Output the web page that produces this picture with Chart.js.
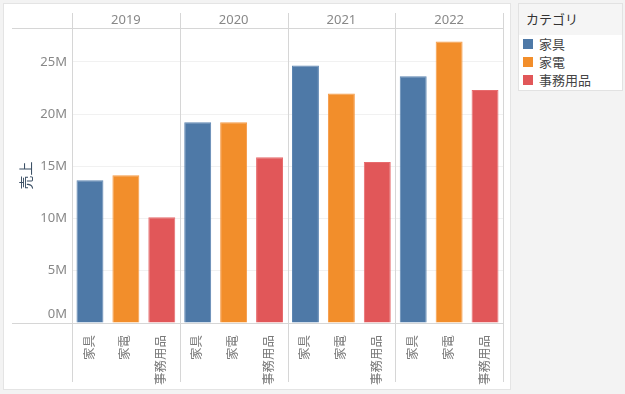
<!DOCTYPE html>
<html>
<head>
<meta charset="utf-8">
<script src="https://cdn.jsdelivr.net/npm/chart.js@4/dist/chart.umd.min.js"></script>
<style>
    body { margin: 0; background: #f3f3f3; font-family: 'Noto Sans', 'Noto Sans CJK JP', sans-serif; }
    #panel { position: absolute; left: 3px; top: 3px; width: 508px; height: 387px; box-sizing: border-box; background: #fff; border: 1px solid #e4e4e4; }
    #wrap { position: absolute; left: 0; top: 0; width: 512px; height: 392px; }
    #legend { position: absolute; left: 518px; top: 3px; width: 105px; height: 88px; box-sizing: border-box; background: #fff; border: 1px solid #e2e2e2; }
    #legend .head { height: 31px; line-height: 31px; background: #f5f5f5; padding-left: 7px; font-size: 13px; color: #333; }
    #legend .item { height: 18px; line-height: 18px; font-size: 13px; color: #444; position: relative; padding-left: 20px; }
    #legend .item span { position: absolute; left: 4px; top: 4px; width: 10px; height: 10px; }
</style>
</head>
<body>
<div id="panel"></div>
<div id="wrap"><canvas id="salesChart" width="512" height="392"></canvas></div>
<div id="legend"><div class="head">カテゴリ</div></div>
<script>
const years = ['2019', '2020', '2021', '2022'];
const categories = ['家具', '家電', '事務用品'];
const colors = ['#4e79a7', '#f28e2b', '#e15759'];
const borders = ['#5d86b2', '#f59a45', '#e76b6d'];

// sales in millions, per category, one value per year
const furniture = [13.67, 19.22, 24.65, 23.62];
const appliances = [14.15, 19.22, 21.97, 26.95];
const office = [10.12, 15.87, 15.42, 22.32];
const yTicks = [0, 5, 10, 15, 20, 25];
const yMax = 28.25;

const series = [furniture, appliances, office];
const FONT = "'Noto Sans', 'Noto Sans CJK JP', sans-serif";

// 12 x slots: year x category
const labels = [];
years.forEach(() => categories.forEach(c => labels.push(c)));

const datasets = categories.map((cat, ci) => {
    const data = labels.map(() => null);
    series[ci].forEach((v, yi) => { data[yi * categories.length + ci] = v * 1e6; });
    return {
        label: cat,
        data: data,
        backgroundColor: colors[ci],
        borderColor: borders[ci],
        borderWidth: 1,
        grouped: false,
        categoryPercentage: 0.75,
        barPercentage: 1
    };
});

// panel dividers, header / baseline rules, and the lifted 0M label
const panelLines = {
    id: 'panelLines',
    afterDraw(chart) {
        const ctx = chart.ctx;
        const x = chart.scales.x;
        const y = chart.scales.y;
        const area = chart.chartArea;
        const slot = (area.right - area.left) / labels.length;
        ctx.save();
        ctx.strokeStyle = '#d6d6d6';
        ctx.lineWidth = 1;
        ctx.beginPath();
        for (let i = 0; i <= years.length; i++) {
            let px;
            if (i < years.length) px = x.getPixelForValue(i * categories.length) - slot / 2;
            else px = x.getPixelForValue(labels.length - 1) + slot / 2;
            px = Math.round(px) + 0.5;
            ctx.moveTo(px, 13);
            ctx.lineTo(px, 382);
        }
        [area.top, area.bottom].forEach(py => {
            py = Math.round(py) + 0.5;
            ctx.moveTo(12, py);
            ctx.lineTo(area.right, py);
        });
        ctx.stroke();

        ctx.fillStyle = '#888';
        ctx.font = '13px ' + FONT;
        ctx.textAlign = 'right';
        ctx.textBaseline = 'middle';
        ctx.fillText((yTicks[0]) + 'M', area.left - 5, y.getPixelForValue(yTicks[0] * 1e6) - 9);
        ctx.restore();
    }
};

function buildLegend() {
    const box = document.getElementById('legend');
    categories.forEach((cat, i) => {
        const row = document.createElement('div');
        row.className = 'item';
        row.innerHTML = '<span style="background:' + colors[i] + '"></span>' + cat;
        box.appendChild(row);
    });
}

document.addEventListener('DOMContentLoaded', function() {
    buildLegend();
    new Chart(document.getElementById('salesChart'), {
        type: 'bar',
        data: { labels: labels, datasets: datasets },
        options: {
            responsive: false,
            animation: false,
            layout: { padding: { left: 0, right: 9, top: 0, bottom: 0 } },
            plugins: { legend: { display: false }, tooltip: { enabled: false } },
            scales: {
                x: {
                    grid: { display: false },
                    border: { display: false },
                    ticks: {
                        minRotation: 90, maxRotation: 90, autoSkip: false,
                        padding: 4, color: '#7a7a7a',
                        font: { family: FONT, size: 12.5 }
                    },
                    afterFit(scale) { scale.height = 69; }
                },
                x2: {
                    type: 'category',
                    position: 'top',
                    labels: years,
                    offset: true,
                    grid: { display: false },
                    border: { display: false },
                    ticks: { padding: -8, color: '#888', font: { family: FONT, size: 13 } },
                    afterFit(scale) { scale.height = 28; }
                },
                y: {
                    min: 0,
                    max: yMax * 1e6,
                    grid: { color: '#f1f1f1', drawTicks: false },
                    border: { display: false },
                    afterBuildTicks(scale) { scale.ticks = yTicks.map(v => ({ value: v * 1e6 })); },
                    ticks: {
                        padding: 5, color: '#888',
                        font: { family: FONT, size: 13 },
                        callback: v => v === 0 ? '' : (v / 1e6) + 'M'
                    },
                    title: {
                        display: true, text: '売上', color: '#3d5166',
                        padding: { top: 19, bottom: 0 },
                        font: { family: FONT, size: 14 }
                    },
                    afterFit(scale) { scale.width = 72; }
                }
            }
        },
        plugins: [panelLines]
    });
});
</script>
</body>
</html>
